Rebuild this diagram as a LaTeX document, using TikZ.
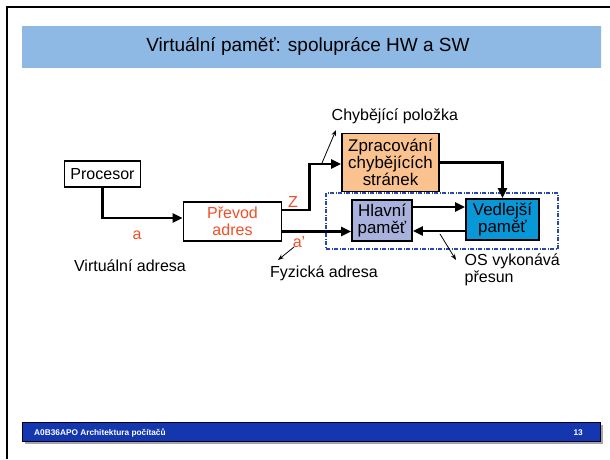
\documentclass[tikz,border=0pt]{standalone}
\usepackage{fontspec}
\setmainfont{Liberation Sans}
\usetikzlibrary{arrows.meta,calc}

\definecolor{labelred}{RGB}{240,80,40}
\definecolor{faultfill}{RGB}{250,194,142}
\definecolor{mainmem}{RGB}{168,178,220}
\definecolor{swapmem}{RGB}{8,152,216}
\definecolor{groupblue}{RGB}{40,72,172}
\definecolor{titletop}{RGB}{142,185,228}
\definecolor{titlemid}{RGB}{170,214,255}
\definecolor{footdark}{RGB}{20,55,175}
\definecolor{footlight}{RGB}{58,124,252}

\newcommand{\diagfont}{\fontsize{16}{17}\selectfont}
\newcommand{\memfont}{\fontsize{16.9}{17}\selectfont}

\begin{document}
\begin{tikzpicture}[x=1pt,y=-1pt,
  box/.style={draw=black, line width=1.8pt, inner sep=0pt, align=center, font=\diagfont},
  membox/.style={box, font=\memfont},
  conn/.style={line width=2.4pt, -{Triangle[length=10pt,width=9pt]}},
  note/.style={line width=0.8pt, -{Stealth[length=6pt,width=4.5pt]}},
  txt/.style={font=\diagfont, inner sep=0pt, align=left},
  redtxt/.style={txt, text=labelred},
  group/.style={draw=groupblue, line width=1.2pt,
    dash pattern=on 4pt off 1.5pt on 1pt off 1.5pt, inner sep=0pt}]

\useasboundingbox (0,0) rectangle (610,459);
\fill[white] (0,0) rectangle (610,459);

% slide frame
\draw[line width=2pt] (6.5,459) -- (6.5,6.5) -- (610,6.5);

% title band
\shade[top color=titletop, middle color=titlemid, bottom color=titletop]
  (22,26) rectangle (601,67);
\node[font=\fontsize{19}{22}\selectfont, inner sep=0pt] (title) at (308,46.5)
  {Virtuální paměť: spolupráce HW a SW};

% footer band
\fill[black!35] (24.5,424.5) rectangle (603,444);
\shade[top color=footdark, middle color=footlight, bottom color=footdark]
  (22,422) rectangle (600.5,441.5);
\draw[line width=0.8pt, black!85!blue] (22,422) rectangle (600.5,441.5);
\node[anchor=base west, font=\bfseries\fontsize{8.3}{9}\selectfont, text=white, inner sep=0pt]
  (foottext) at (34,435) {A0B36APO Architektura počítačů};
\node[anchor=base east, font=\bfseries\fontsize{8.3}{9}\selectfont, text=white, inner sep=0pt]
  (pagenum) at (583,435) {13};

% OS group (dashed)
\node[group, minimum width=232pt, minimum height=56pt] (osgroup) at (442,221) {};

% blocks
\node[box, minimum width=76pt, minimum height=26pt] (proc) at (102.5,174) {Procesor};
\node[box, minimum width=98pt, minimum height=39pt, text=labelred] (prevod) at (232.5,221.5)
  {Převod\\adres};
\node[membox, fill=faultfill, minimum width=97pt, minimum height=58pt] (zprac) at (390.5,162.5)
  {Zpracování\\chybějících\\stránek};
\node[membox, fill=mainmem, minimum width=60pt, minimum height=41pt] (hlavni) at (382,220.7)
  {Hlavní\\paměť};
\node[membox, fill=swapmem, minimum width=73pt, minimum height=41pt] (vedl) at (502.5,219.5)
  {Vedlejší\\paměť};

% labels
\node[redtxt] (la) at (137,235) {a};
\node[txt] (virt) at (130,266) {Virtuální adresa};
\node[redtxt] (lz) at (293,202) {Z};
\node[redtxt] (laa) at (299,242) {a'};
\node[txt] (fyz) at (324,273) {Fyzická adresa};
\node[txt, anchor=west] (chyb) at (331.5,116) {Chybějící položka};
\node[txt, anchor=north west] (osnote) at (464.5,254) {OS vykonává\\přesun};

% data path
\draw[conn] (proc.south) |- ([yshift=3.5pt]prevod.west);
\coordinate (zout) at ([yshift=11.5pt]prevod.east);
\coordinate (zin) at ([yshift=-1.5pt]zprac.west);
\draw[conn] (zout) -- ++(27,0) |- (zin);
\coordinate (aout) at ([yshift=-10pt]prevod.east);
\draw[conn] (aout) -- (aout -| hlavni.west);
\draw[conn] (zprac.east) -| (vedl.north);
\coordinate (hout) at ([yshift=13.7pt]hlavni.east);
\draw[conn] (hout) -- (hout -| vedl.west);
\coordinate (vout) at ([yshift=-11.5pt]vedl.west);
\draw[conn] (vout) -- (vout -| hlavni.east);

% pointer arrows to the notes
\coordinate (chybfrom) at (322,163);
\coordinate (chybto) at (336,130);
\draw[note] (chybfrom) -- (chybto);
\coordinate (fyzfrom) at (294,247);
\coordinate (fyzto) at (278,260);
\draw[note] (fyzfrom) -- (fyzto);
\coordinate (osfrom) at (440,234);
\coordinate (osto) at (456,260);
\draw[note] (osfrom) -- (osto);

\end{tikzpicture}
\end{document}
